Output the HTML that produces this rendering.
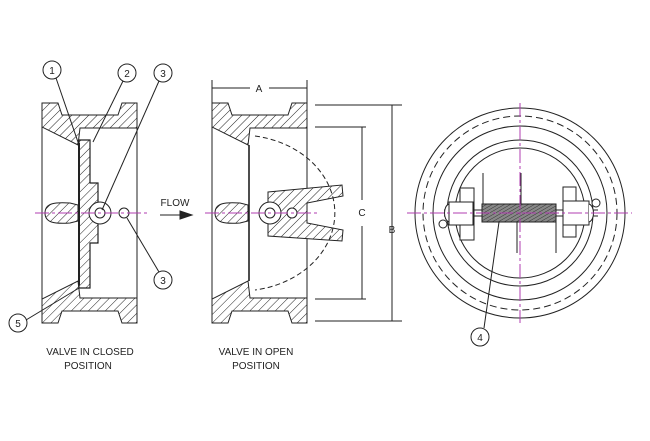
<!DOCTYPE html>
<html><head><style>
html,body{margin:0;padding:0;background:#fff;}
svg{display:block;}
text{font-family:"Liberation Sans",sans-serif;fill:#222;}
</style></head><body>
<svg width="650" height="441" viewBox="0 0 650 441" xmlns="http://www.w3.org/2000/svg">
<defs>
<pattern id="h" patternUnits="userSpaceOnUse" width="6" height="6" patternTransform="rotate(45)">
<rect width="6" height="6" fill="#fff"/><line x1="0" y1="0" x2="0" y2="6" stroke="#222" stroke-width="1"/>
</pattern>
<pattern id="sp" patternUnits="userSpaceOnUse" width="3" height="3" patternTransform="rotate(60)">
<rect width="3" height="3" fill="#888"/><line x1="0" y1="0" x2="0" y2="3" stroke="#333" stroke-width="1"/>
</pattern>
</defs>
<g stroke="#222" stroke-width="1" fill="none">
<!-- CLOSED VALVE -->
<g id="body">
<path d="M42,103 L58,103 L62,115 L118,115 L122,103 L137,103 L137,128 L80,128 L78,145 L42,127 Z" fill="url(#h)"/>
<path d="M42,323 L58,323 L62,311 L118,311 L122,323 L137,323 L137,298 L80,298 L78,281 L42,299 Z" fill="url(#h)"/>
<line x1="42" y1="103" x2="42" y2="323"/>
<line x1="137" y1="128" x2="137" y2="298"/>
<path d="M45,213 C45,203 55,202 70,203 L78,205 L78,221 L70,223 C55,224 45,223 45,213 Z" fill="url(#h)"/>
</g>
<path d="M79,140 L90,140 L90,183 L98,183 L98,243 L90,243 L90,288 L79,288 Z" fill="url(#h)" stroke-width="1.2"/>
<line x1="79" y1="143" x2="79" y2="285" stroke-width="2"/>
<circle cx="100" cy="213" r="11" fill="#fff"/>
<circle cx="100" cy="213" r="5"/>
<circle cx="124" cy="213" r="5" fill="#fff"/>
<!-- labels closed -->
<circle cx="52" cy="70" r="9" fill="#fff"/><circle cx="127" cy="73" r="9" fill="#fff"/>
<circle cx="163" cy="73" r="9" fill="#fff"/><circle cx="163" cy="280" r="9" fill="#fff"/>
<circle cx="18" cy="323" r="9" fill="#fff"/>
<line x1="56" y1="78" x2="79" y2="145"/>
<line x1="123" y1="81" x2="93" y2="142"/>
<line x1="159" y1="81" x2="102" y2="210"/>
<line x1="159" y1="272" x2="127" y2="218"/>
<line x1="26" y1="320" x2="79" y2="288"/>
<!-- FLOW arrow -->
<line x1="160" y1="215" x2="182" y2="215"/>
<path d="M180,211 L192,215 L180,219 Z" fill="#222"/>
<!-- OPEN VALVE -->
<g transform="translate(170,0)">
<path d="M42,103 L58,103 L62,115 L118,115 L122,103 L137,103 L137,128 L80,128 L78,145 L42,127 Z" fill="url(#h)"/>
<path d="M42,323 L58,323 L62,311 L118,311 L122,323 L137,323 L137,298 L80,298 L78,281 L42,299 Z" fill="url(#h)"/>
<line x1="42" y1="103" x2="42" y2="323"/>
<line x1="137" y1="128" x2="137" y2="298"/>
<path d="M45,213 C45,203 55,202 70,203 L78,205 L78,221 L70,223 C55,224 45,223 45,213 Z" fill="url(#h)"/>
<line x1="79" y1="145" x2="79" y2="281" stroke-width="1.6"/>
</g>
<path d="M268,192 L342,185 L343,196 L307,203 L307,223 L343,230 L342,241 L268,236 Z" fill="url(#h)"/>
<circle cx="270" cy="213" r="11" fill="#fff"/>
<circle cx="270" cy="213" r="5"/>
<circle cx="292" cy="213" r="5" fill="#fff"/>
<path d="M255,136 A95,78 0 0 1 255,290" stroke-dasharray="5,3"/>
<!-- dims -->
<line x1="212" y1="80" x2="212" y2="103"/><line x1="307" y1="80" x2="307" y2="103"/>
<line x1="212" y1="88" x2="250" y2="88"/><line x1="269" y1="88" x2="307" y2="88"/>
<line x1="315" y1="105" x2="402" y2="105"/><line x1="315" y1="321" x2="402" y2="321"/>
<line x1="392" y1="105" x2="392" y2="321"/>
<line x1="315" y1="127" x2="366" y2="127"/><line x1="315" y1="299" x2="366" y2="299"/>
<line x1="362" y1="127" x2="362" y2="200"/><line x1="362" y1="226" x2="362" y2="299"/>
<!-- END VIEW -->
<circle cx="520" cy="213" r="105"/>
<circle cx="520" cy="213" r="97" stroke-dasharray="7,4"/>
<circle cx="520" cy="213" r="87"/>
<circle cx="520" cy="213" r="73"/>
<circle cx="520" cy="213" r="65"/>
<line x1="444" y1="210" x2="598" y2="210"/><line x1="444" y1="216" x2="598" y2="216"/>
<rect x="482" y="204" width="74" height="18" fill="url(#sp)"/>
<path d="M449,204 C443,206 443,220 449,222" fill="#fff"/>
<rect x="460" y="188" width="14" height="52" fill="#fff"/>
<rect x="449" y="202" width="24" height="23" fill="#fff"/>
<circle cx="443" cy="224" r="4" fill="#fff"/>
<rect x="563" y="187" width="13" height="50" fill="#fff"/>
<rect x="563" y="201" width="26" height="24" fill="#fff"/>
<path d="M589,204 C595,206 595,220 589,222" fill="#fff"/>
<circle cx="596" cy="203" r="4" fill="#fff"/>
<line x1="483" y1="173" x2="483" y2="204"/>
<line x1="521" y1="173" x2="521" y2="204"/>
<line x1="517" y1="222" x2="517" y2="253"/>
<line x1="556" y1="222" x2="556" y2="253"/>
<circle cx="480" cy="337" r="9" fill="#fff"/>
<line x1="484" y1="328" x2="499" y2="222"/>
</g>
<!-- centerlines -->
<g stroke="#b03cb0" stroke-width="1" stroke-dasharray="14,3,3,3" fill="none">
<line x1="35" y1="213" x2="148" y2="213"/>
<line x1="205" y1="213" x2="320" y2="213"/>
<line x1="407" y1="213" x2="632" y2="213"/>
<line x1="520" y1="103" x2="520" y2="323"/>
</g>
<g font-size="10" text-anchor="middle">
<text x="52" y="74">1</text><text x="127" y="77">2</text><text x="163" y="77">3</text>
<text x="163" y="284">3</text><text x="18" y="327">5</text><text x="480" y="341">4</text>
<text x="259" y="92">A</text><text x="392" y="290" dy="-57">B</text><text x="362" y="216">C</text>
<text x="175" y="206">FLOW</text>
<text x="90" y="355">VALVE IN CLOSED</text><text x="88" y="369">POSITION</text>
<text x="256" y="355">VALVE IN OPEN</text><text x="256" y="369">POSITION</text>
</g>
</svg>
</body></html>
